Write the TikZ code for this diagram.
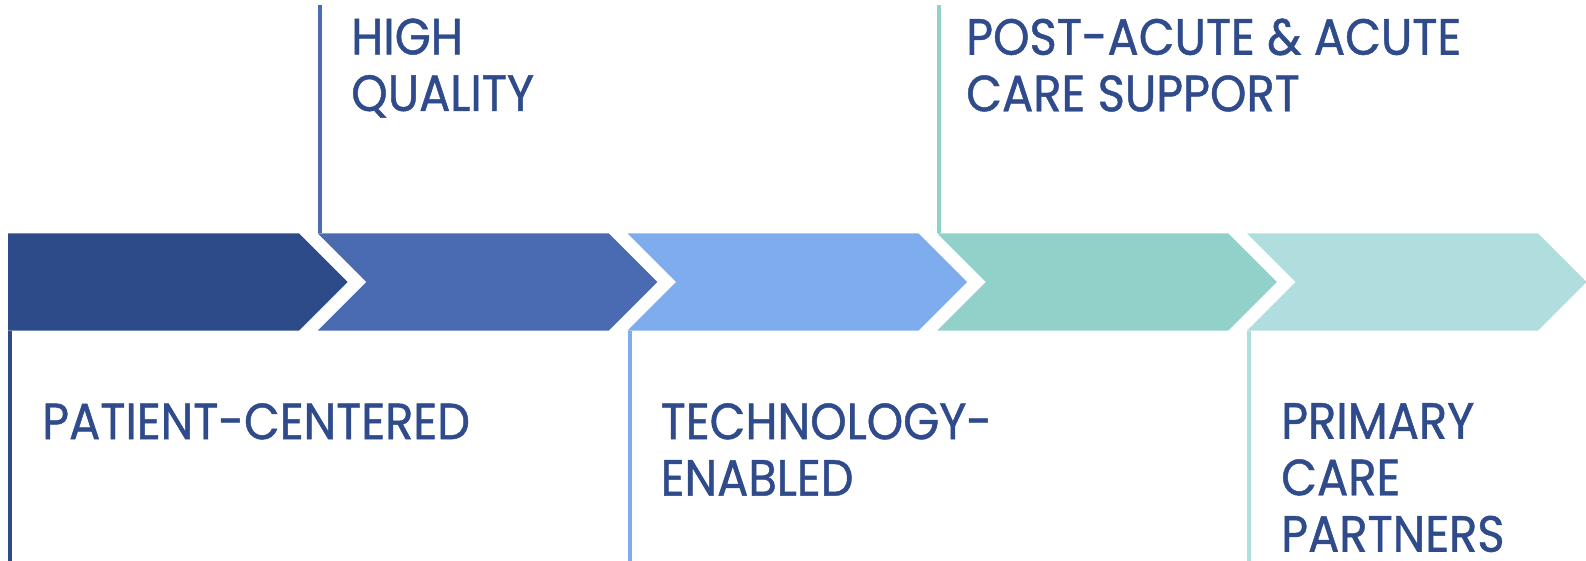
\documentclass[tikz,border=0pt]{standalone}
\usepackage{fontspec}
\setmainfont{Poppins}[FakeStretch=0.91,FakeBold=0.9]
\definecolor{c1}{HTML}{2E4B89}
\definecolor{c2}{HTML}{4A6BB1}
\definecolor{c3}{HTML}{7FACEC}
\definecolor{c4}{HTML}{92D1CA}
\definecolor{c5}{HTML}{B0DDDD}
\definecolor{txt}{HTML}{2F4B8B}
\begin{document}
\begin{tikzpicture}[x=1pt,y=-1pt,
  caption/.style={anchor=north west,inner sep=0pt,align=left,text=txt,
    font=\fontsize{51}{56.5}\selectfont},
  tick/.style={line width=4pt}]
\useasboundingbox (0,0) rectangle (1586,561);
% first chevron: flat left edge
\fill[c1] (8,233.5) -- (299,233.5) -- (347.5,282) -- (299,330.5) -- (8,330.5) -- cycle;
% remaining chevrons: notched left edge
\foreach \i/\c in {1/c2,2/c3,3/c4,4/c5}{
  \pgfmathsetmacro\xo{8+309.75*\i}
  \fill[\c] (\xo,233.5) -- (\xo+291,233.5) -- (\xo+339.5,282) -- (\xo+291,330.5)
     -- (\xo,330.5) -- (\xo+48.5,282) -- cycle;
}
% leader lines
\coordinate (l1a) at (10,330.5);   \coordinate (l1b) at (10,561);
\coordinate (l2a) at (319.5,5);    \coordinate (l2b) at (319.5,233.5);
\coordinate (l3a) at (629.5,330.5);\coordinate (l3b) at (629.5,561);
\coordinate (l4a) at (939,5);      \coordinate (l4b) at (939,233.5);
\coordinate (l5a) at (1249,330.5); \coordinate (l5b) at (1249,561);
\draw[tick,c1] (l1a) -- (l1b);
\draw[tick,c2] (l2a) -- (l2b);
\draw[tick,c3] (l3a) -- (l3b);
\draw[tick,c4] (l4a) -- (l4b);
\draw[tick,c5] (l5a) -- (l5b);
% captions
\node[caption] (patient) at (42,403) {PATIENT-CENTERED};
\node[caption] (quality) at (351,18.3) {HIGH\\QUALITY};
\node[caption] (tech) at (660.5,403) {TECHNOLOGY-\\ENABLED};
\node[caption] (acute) at (966,18.3) {POST-ACUTE \& ACUTE\\CARE SUPPORT};
\node[caption] (primary) at (1281,403) {PRIMARY\\CARE\\PARTNERS};
\end{tikzpicture}
\end{document}
